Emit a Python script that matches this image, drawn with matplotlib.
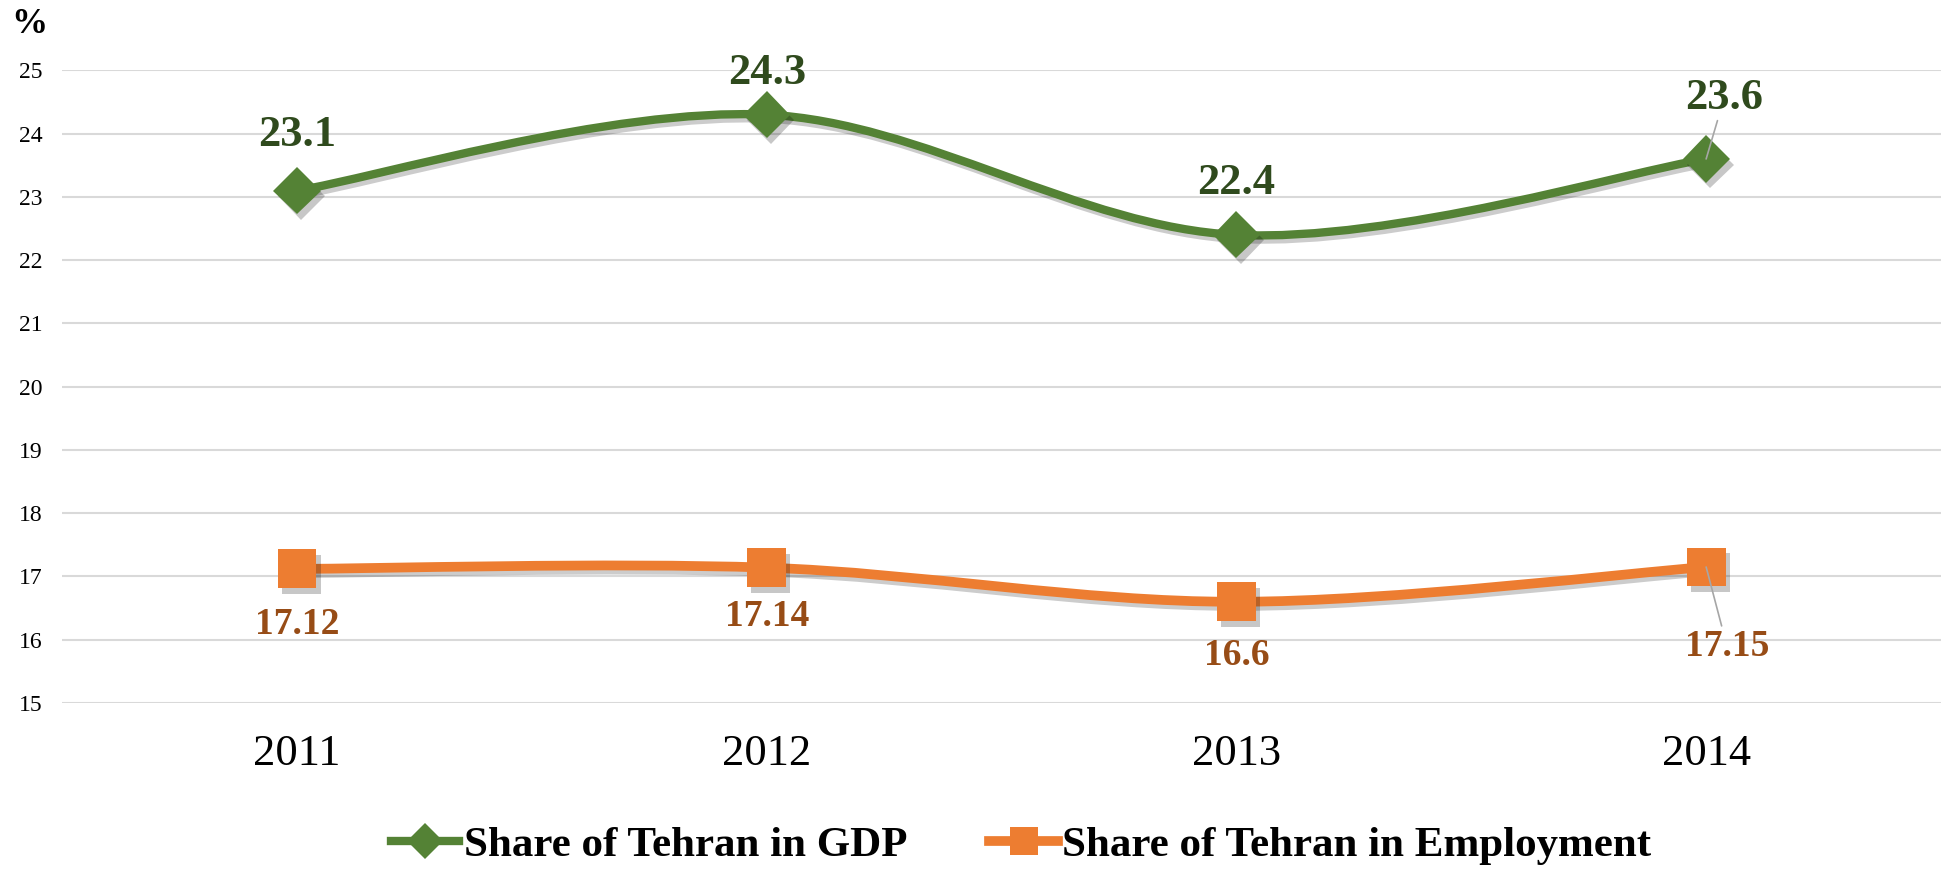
import matplotlib
matplotlib.use("Agg")
import matplotlib.pyplot as plt
import matplotlib.patheffects as pe
from matplotlib.path import Path
from matplotlib.patches import PathPatch
from matplotlib.lines import Line2D

plt.rcParams['font.family'] = ['Liberation Serif', 'DejaVu Serif']

years = ['2011', '2012', '2013', '2014']
gdp_share = [23.1, 24.3, 22.4, 23.6]
emp_share = [17.12, 17.14, 16.6, 17.15]
gdp_labels = ['23.1', '24.3', '22.4', '23.6']
emp_labels = ['17.12', '17.14', '16.6', '17.15']

green = '#548235'
green_dark = '#2F4A1D'
orange = '#ED7D31'
orange_dark = '#974C16'


def smooth_path(xs, ys):
    # excel-like smoothed line: catmull-rom as cubic bezier segments
    pts = list(zip(xs, ys))
    verts = [pts[0]]
    codes = [Path.MOVETO]
    n = len(pts)
    for i in range(n - 1):
        p0 = pts[max(i - 1, 0)]
        p1 = pts[i]
        p2 = pts[i + 1]
        p3 = pts[min(i + 2, n - 1)]
        c1 = (p1[0] + (p2[0] - p0[0]) / 6, p1[1] + (p2[1] - p0[1]) / 6)
        c2 = (p2[0] - (p3[0] - p1[0]) / 6, p2[1] - (p3[1] - p1[1]) / 6)
        verts += [c1, c2, p2]
        codes += [Path.CURVE4] * 3
    return Path(verts, codes)


fig = plt.figure(figsize=(19.41, 8.69), dpi=100)
ax = fig.add_axes([0.032, 0.191, 0.968, 0.728])

x = list(range(len(years)))

line_shadow = [pe.SimpleLineShadow(offset=(2, -3), shadow_color='black', alpha=0.2), pe.Normal()]
mark_shadow = [pe.SimplePatchShadow(offset=(3, -4), shadow_rgbFace='black', alpha=0.22), pe.Normal()]

for ys, col, lw in [(gdp_share, green, 6), (emp_share, orange, 7)]:
    patch = PathPatch(smooth_path(x, ys), facecolor='none', edgecolor=col, lw=lw,
                      capstyle='round', joinstyle='round', zorder=3)
    patch.set_path_effects(line_shadow)
    ax.add_patch(patch)

ax.plot(x, gdp_share, linestyle='none', marker='D', markersize=24, color=green,
        markeredgewidth=0, zorder=4, path_effects=mark_shadow)
ax.plot(x, emp_share, linestyle='none', marker='s', markersize=28, color=orange,
        markeredgewidth=0, zorder=4, path_effects=mark_shadow)

# data labels
gdp_off = [(0, 40), (0, 30), (0, 37), (13, 44)]
emp_off = [(0, -40), (0, -35), (0, -39), (15, -57)]
for i in range(len(years)):
    leader = dict(arrowstyle='-', color='#A6A6A6', lw=1.2, shrinkA=0, shrinkB=0) if i == 3 else None
    ax.annotate(gdp_labels[i], (x[i], gdp_share[i]), xytext=gdp_off[i], textcoords='offset points',
                ha='center', va='center', fontsize=32, fontweight='bold', color=green_dark,
                arrowprops=leader, zorder=6)
    ax.annotate(emp_labels[i], (x[i], emp_share[i]), xytext=emp_off[i], textcoords='offset points',
                ha='center', va='center', fontsize=27, fontweight='bold', color=orange_dark,
                arrowprops=leader, zorder=6)

ax.set_xlim(-0.5, 3.5)
ax.set_ylim(15, 25)
ax.set_yticks(range(15, 26))
ax.set_xticks(x)
ax.set_xticklabels(years)
ax.tick_params(axis='y', length=0, pad=14, labelsize=17)
ax.tick_params(axis='x', length=0, pad=22, labelsize=32)
ax.grid(axis='y', color='#D9D9D9', lw=1.5)
ax.set_axisbelow(True)
for s in ax.spines.values():
    s.set_visible(False)

fig.text(0.006, 0.972, '%', fontsize=26, fontweight='bold', va='center', ha='left')

handles = [Line2D([], [], color=green, lw=6, marker='D', markersize=18, markeredgewidth=0),
           Line2D([], [], color=orange, lw=7, marker='s', markersize=20, markeredgewidth=0)]
fig.legend(handles, ['Share of Tehran in GDP', 'Share of Tehran in Employment'],
           loc='center', bbox_to_anchor=(0.526, 0.027), ncol=2, frameon=False,
           prop={'size': 31, 'weight': 'bold'}, handlelength=1.6, handletextpad=0.1,
           columnspacing=1.9)

fig.savefig('out.png', dpi=100)
